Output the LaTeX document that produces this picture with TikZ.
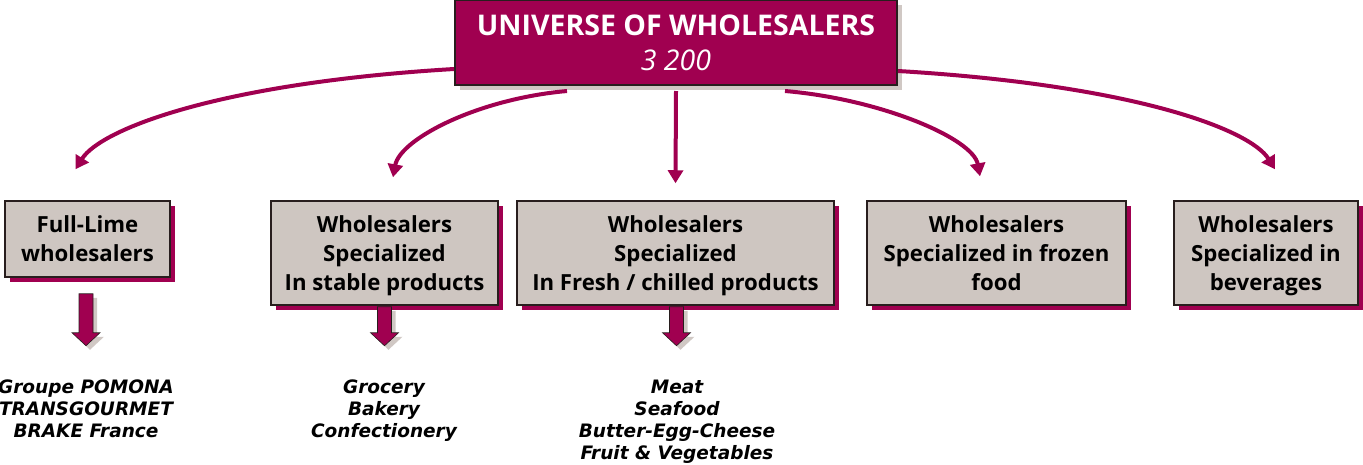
\documentclass[tikz,border=0pt]{standalone}
\usepackage{fontspec}
\setmainfont{Open Sans}
\newfontfamily\listfont{DejaVu Sans}
\usetikzlibrary{arrows.meta,shadows}

\definecolor{wine}{RGB}{160,0,80}
\definecolor{boxgray}{RGB}{206,198,193}
\definecolor{shadegray}{RGB}{208,200,196}
\definecolor{edgedark}{RGB}{40,30,30}

\tikzset{
  headbox/.style={draw=edgedark, line width=2pt, fill=wine, text=white, align=center, text depth=0pt,
    font=\bfseries\fontsize{28.5}{35}\selectfont,
    general shadow={fill=shadegray, shadow xshift=5pt, shadow yshift=-5pt}},
  catbox/.style={draw=edgedark, line width=1.5pt, fill=boxgray, align=center, text depth=0pt,
    font=\bfseries\fontsize{22.2}{29}\selectfont,
    general shadow={fill=wine, shadow xshift=5pt, shadow yshift=-5pt}},
  branch/.style={wine, line width=4pt, -{Triangle[width=15pt,length=13pt]}},
  itemlist/.style={font=\listfont\bfseries\itshape\fontsize{18.5}{22}\selectfont, align=center, inner sep=0pt},
}

% block arrow below a category box
\newcommand{\blockarrow}[2]{%
  \begin{scope}[shift={#1}]
    \fill[shadegray] (-3,4) -- (11,4) -- (11,#2-9) -- (18,#2-9) -- (4,#2+4) -- (-10,#2-9) -- (-3,#2-9) -- cycle;
    \filldraw[fill=wine, draw=edgedark, line width=0.6pt] (-7,0) -- (7,0) -- (7,#2-13) -- (14,#2-13) -- (0,#2) -- (-14,#2-13) -- (-7,#2-13) -- cycle;
  \end{scope}}

\begin{document}
\begin{tikzpicture}[x=1pt, y=-1pt]
  \useasboundingbox (0,0) rectangle (1363,464);

  % Universe
  \node[headbox, minimum width=442pt, minimum height=85pt] (universe) at (676,42.5)
    {UNIVERSE OF WHOLESALERS\\{\itshape\mdseries 3 200}};

  % Categories
  \node[catbox, minimum width=165pt, minimum height=76pt] (fullline) at (87.5,239) {Full-Lime\\wholesalers};
  \node[catbox, minimum width=227pt, minimum height=104pt] (stable) at (384.5,253) {Wholesalers\\Specialized\\In stable products};
  \node[catbox, minimum width=317pt, minimum height=104pt] (fresh) at (675.5,253) {Wholesalers\\Specialized\\In Fresh / chilled products};
  \node[catbox, minimum width=259pt, minimum height=104pt] (frozen) at (996.5,253) {Wholesalers\\Specialized in frozen\\food};
  \node[catbox, minimum width=184pt, minimum height=104pt] (beverages) at (1266,253) {Wholesalers\\Specialized in\\beverages};

  % Branches
  \draw[branch] ([yshift=17pt]universe.south west) .. controls +(-235,14) and +(25,-40) .. ([xshift=-12pt,yshift=31pt]fullline.north);
  \draw[branch] ([xshift=-109pt,yshift=-5pt]universe.south) .. controls +(-90,8) and +(7,-38) .. ([xshift=8.5pt,yshift=23pt]stable.north);
  \draw[branch] ([yshift=-5pt]universe.south) -- ([yshift=17pt]fresh.north);
  \draw[branch] ([xshift=109pt,yshift=-5pt]universe.south) .. controls +(95,8) and +(-7,-38) .. ([xshift=-16.5pt,yshift=24pt]frozen.north);
  \draw[branch] ([yshift=15pt]universe.south east) .. controls +(235,14) and +(-25,-40) .. ([xshift=9pt,yshift=31pt]beverages.north);

  % Block arrows
  \blockarrow{([xshift=-1.5pt,yshift=-16pt]fullline.south)}{52}
  \blockarrow{([yshift=-1pt]stable.south)}{39}
  \blockarrow{([xshift=1pt,yshift=-1pt]fresh.south)}{39}

  % Examples
  \node[itemlist, anchor=north] (listfull) at (86,380) {Groupe POMONA\\TRANSGOURMET\\BRAKE France};
  \node[itemlist, anchor=north] (liststable) at (384,380) {Grocery\\Bakery\\Confectionery};
  \node[itemlist, anchor=north] (listfresh) at (677,380) {Meat\\Seafood\\Butter-Egg-Cheese\\Fruit \& Vegetables};
\end{tikzpicture}
\end{document}
